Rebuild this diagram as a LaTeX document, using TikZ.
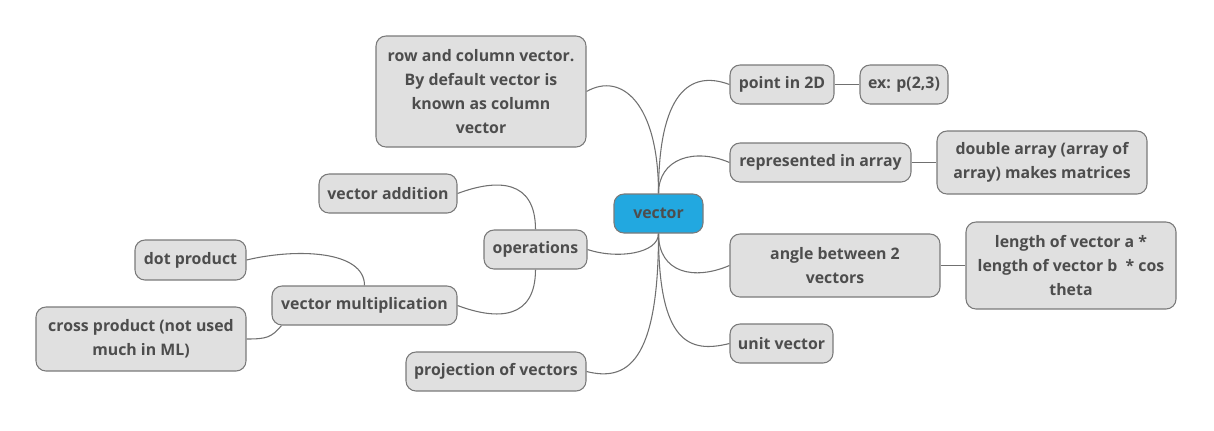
\documentclass[tikz,border=0pt]{standalone}
\usepackage{fontspec}
\setmainfont{Open Sans}
\usetikzlibrary{backgrounds}
\definecolor{boxfill}{HTML}{E0E0E0}
\definecolor{boxline}{HTML}{7A7A7A}
\definecolor{txtgray}{HTML}{4D4D4D}
\definecolor{rootblue}{HTML}{22A8E0}
\definecolor{linkgray}{HTML}{707070}
\tikzset{
  topic/.style 2 args={draw=boxline,fill=boxfill,rounded corners=7.5pt,line width=0.8pt,
    inner sep=0pt,align=center,text=txtgray,font=\fontsize{11.9}{18}\selectfont\bfseries,
    minimum width=#1*0.75pt,minimum height=#2*0.75pt},
  link/.style={draw=linkgray,line width=0.8pt}
}
\begin{document}
\begin{tikzpicture}[x=0.75pt,y=-0.75pt,join=round] % vector mind map
        \useasboundingbox (0,0) rectangle (1214,430);
        \node[topic={89}{39},fill=rootblue] (root) at (658.5,213.5) {vector};
        \node[topic={210}{111}] (rowcol) at (481,91.5) {row and column vector.\\By default vector is\\known as column\\vector};
        \node[topic={104}{39}] (pt) at (782,84.5) {point in 2D};
        \node[topic={88}{39}] (ex) at (904,84.5) {ex: p(2,3)};
        \node[topic={181}{39}] (rep) at (820.5,162.5) {represented in array};
        \node[topic={210}{63}] (dbl) at (1042,162.5) {double array (array of\\array) makes matrices};
        \node[topic={210}{63}] (ang) at (835,265.5) {angle between 2\\vectors};
        \node[topic={210}{87}] (len) at (1071,265.5) {length of vector a *\\length of vector b\ \ * cos\\theta};
        \node[topic={103}{39}] (unit) at (781.5,343.5) {unit vector};
        \node[topic={180}{39}] (proj) at (496,371.5) {projection of vectors};
        \node[topic={103}{39}] (ops) at (535.5,249.5) {operations};
        \node[topic={138}{39}] (add) at (388,193.5) {vector addition};
        \node[topic={185}{39}] (mult) at (364.5,305.5) {vector multiplication};
        \node[topic={111}{40}] (dot) at (190.5,260) {dot product};
        \node[topic={210}{64}] (cross) at (141,339) {cross product (not used\\much in ML)};
        \begin{pgfonlayer}{background}
        \draw[link] (root.north) .. controls +(0,-90) and +(35,-20) .. (rowcol.east);
        \draw[link] (root.north) .. controls +(0,-100) and +(-40,-15) .. (pt.west);
        \draw[link] (root.north) .. controls +(0,-35) and +(-35,-15) .. (rep.west);
        \draw[link] (root.south) .. controls +(0,40) and +(-35,15) .. (ang.west);
        \draw[link] (root.south) .. controls +(0,110) and +(-40,10) .. (unit.west);
        \draw[link] (root.south) .. controls +(0,130) and +(40,10) .. (proj.east);
        \draw[link] (root.south) .. controls +(0,20) and +(30,10) .. (ops.east);
        \draw[link] (pt) -- (ex);
        \draw[link] (rep) -- (dbl);
        \draw[link] (ang) -- (len);
        \draw[link] (ops.north) .. controls +(0,-50) and +(40,-15) .. (add.east);
        \draw[link] (ops.south) .. controls +(0,50) and +(40,15) .. (mult.east);
        \draw[link] (mult.north) .. controls +(0,-35) and +(50,-12) .. (dot.east);
        \draw[link] ([xshift=7.5pt]mult.south west) .. controls +(-10,12) and +(20,0) .. (cross.east);
        \end{pgfonlayer}
\end{tikzpicture}
\end{document}
